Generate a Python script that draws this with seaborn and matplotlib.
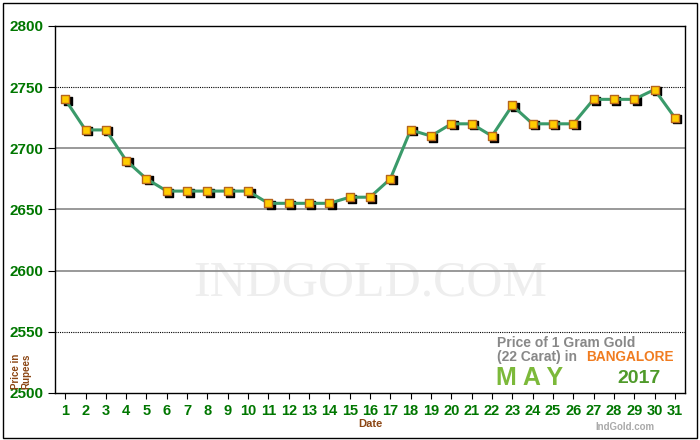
import matplotlib
matplotlib.use("Agg")
import matplotlib.pyplot as plt
import seaborn as sns
import pandas as pd
from matplotlib.patches import Rectangle

days = list(range(1, 32))
prices = [2740, 2715, 2715, 2690, 2675, 2665, 2665, 2665, 2665, 2665,
          2655, 2655, 2655, 2655, 2660, 2660, 2675, 2715, 2710, 2720,
          2720, 2710, 2735, 2720, 2720, 2720, 2740, 2740, 2740, 2748, 2725]
yticks = [2500, 2550, 2600, 2650, 2700, 2750, 2800]

df = pd.DataFrame({"Date": days, "Price": prices})
sns.set_style("white")
plt.rcParams["font.family"] = ["Liberation Sans", "DejaVu Sans"]
fig = plt.figure(figsize=(7, 4.4), dpi=100)
ax = fig.add_axes([0.0786, 0.107, 0.9, 0.834])
fig.patches.append(Rectangle((0.004, 0.004), 0.992, 0.99, transform=fig.transFigure,
                             fill=False, edgecolor="black", lw=1))

for y in yticks[1:-1]:
    if y in (2550, 2750):
        ax.axhline(y, color="black", lw=0.8, ls=(0, (1, 1)), zorder=1)
    else:
        ax.axhline(y, color="#888888", lw=1.2, zorder=1)

ax.text(16, 2590, "INDGOLD.COM", fontsize=36, color="#eeeeee", ha="center", va="center",
        family="Liberation Serif", zorder=0)

ax.scatter([d + 0.12 for d in days], [p - 1.2 for p in prices], marker="s", s=40,
           color="black", zorder=2)
sns.lineplot(data=df, x="Date", y="Price", ax=ax, color="#3a9a6a", lw=2.2, zorder=3)
sns.scatterplot(data=df, x="Date", y="Price", ax=ax, marker="s", s=40,
                color="#ffcc00", edgecolor="#b5651d", linewidth=1, zorder=4)

ax.set_xlim(0.5, 31.5)
ax.set_ylim(2500, 2800)
ax.set_xticks(days)
ax.set_yticks(yticks)
ax.tick_params(axis="x", labelsize=10.5, length=4, direction="out", bottom=True, colors="black",
               labelcolor="#007700", pad=4)
ax.tick_params(axis="y", labelsize=11, length=5, direction="out", left=True, colors="black",
               labelcolor="#007700")
for lab in ax.get_xticklabels() + ax.get_yticklabels():
    lab.set_fontweight("bold")
for s in ax.spines.values():
    s.set_color("black")
    s.set_linewidth(1)
ax.set_xlabel("Date", color="#8B4513", fontsize=8, fontweight="bold", labelpad=1)
ax.set_ylabel("")
fig.text(0.03, 0.155, "Price in\nRupees", rotation=90, color="#8B4513", fontsize=7,
         fontweight="bold", ha="center", va="center", linespacing=1.1)

ax.text(0.702, 0.137, "Price of 1 Gram Gold", transform=ax.transAxes, color="#888888",
        fontsize=10, fontweight="bold", va="center")
ax.text(0.702, 0.099, "(22 Carat) in", transform=ax.transAxes, color="#888888",
        fontsize=10, fontweight="bold", va="center")
ax.text(0.843, 0.099, "BANGALORE", transform=ax.transAxes, color="#f07c20",
        fontsize=9.8, fontweight="bold", va="center")
ax.text(0.700, 0.040, "M A Y", transform=ax.transAxes, color="#7cb93a",
        fontsize=18, fontweight="bold", va="center")
ax.text(0.892, 0.040, "2017", transform=ax.transAxes, color="#4f9a2a",
        fontsize=14, fontweight="bold", va="center")
fig.text(0.935, 0.022, "IndGold.com", color="#aaaaaa", fontsize=7, fontweight="bold", ha="right")

fig.savefig("out.png", dpi=100)
